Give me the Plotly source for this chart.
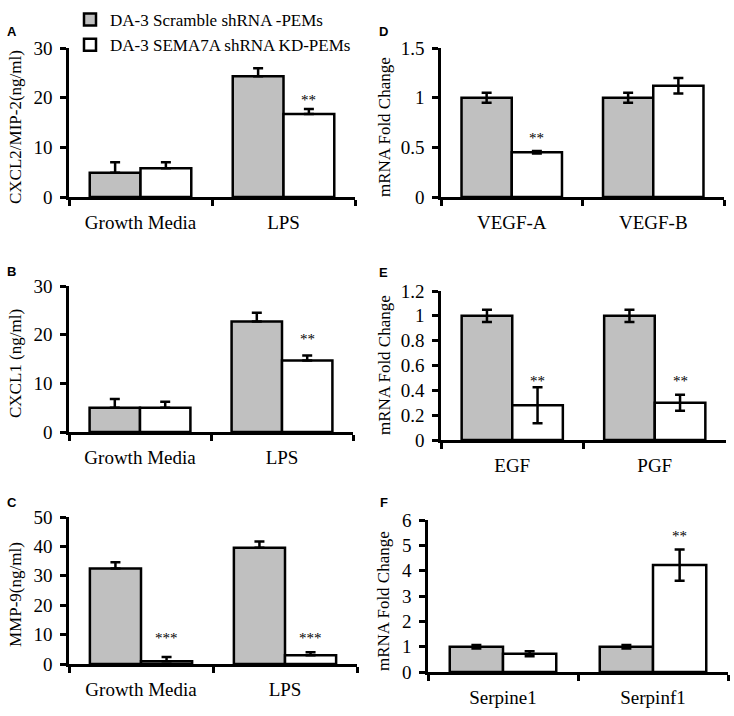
import plotly.graph_objects as go

W, H = 734, 716

# ---------------- data ----------------
cats_left = ["Growth Media", "LPS"]
cats_D = ["VEGF-A", "VEGF-B"]
cats_E = ["EGF", "PGF"]
cats_F = ["Serpine1", "Serpinf1"]

series_names = ["DA-3 Scramble shRNA -PEMs", "DA-3 SEMA7A shRNA KD-PEMs"]

A_scr = [4.9, 24.3]
A_scr_err = [2.1, 1.6]
A_kd = [5.8, 16.7]
A_kd_err = [1.2, 1.0]
A_sig = ["", "**"]
A_sig_y = [None, 19.7]

B_scr = [5.0, 22.7]
B_scr_err = [1.8, 1.8]
B_kd = [5.0, 14.7]
B_kd_err = [1.2, 1.0]
B_sig = ["", "**"]
B_sig_y = [None, 19.3]

C_scr = [32.5, 39.5]
C_scr_err = [2.1, 2.2]
C_kd = [0.9, 3.0]
C_kd_err = [1.5, 1.0]
C_sig = ["***", "***"]
C_sig_y = [9.2, 9.2]

D_scr = [1.0, 1.0]
D_scr_err = [0.05, 0.05]
D_kd = [0.45, 1.12]
D_kd_err = [0.012, 0.078]
D_sig = ["**", ""]
D_sig_y = [0.60, None]

E_scr = [1.0, 1.0]
E_scr_err = [0.05, 0.05]
E_kd = [0.28, 0.30]
E_kd_err = [0.145, 0.065]
E_sig = ["**", "**"]
E_sig_y = [0.48, 0.48]

F_scr = [1.0, 1.0]
F_scr_err = [0.07, 0.07]
F_kd = [0.72, 4.22]
F_kd_err = [0.10, 0.62]
F_sig = ["", "**"]
F_sig_y = [None, 5.4]

y_titles = ["CXCL2/MIP-2(ng/ml)", "CXCL1 (ng/ml)", "MMP-9(ng/ml)",
            "mRNA Fold Change", "mRNA Fold Change", "mRNA Fold Change"]
panel_letters = ["A", "B", "C", "D", "E", "F"]
y_max = [30, 30, 50, 1.5, 1.2, 6]
y_dtick = [10, 10, 10, 0.5, 0.2, 1]

# ---------------- layout geometry (pixels) ----------------
# (x_left, x_right, y_top, y_bottom)
boxes = [
    (69, 355, 48, 197),
    (69, 353, 286, 432),
    (69, 357, 517, 664),
    (441, 724, 48, 197),
    (441, 726, 291, 440),
    (428, 728, 520, 672),
]
title_pos = [(15, 127), (15, 364), (15, 595), (384, 127), (384, 365), (383, 601)]
letter_pos = [(12, 31), (12, 271), (12, 502), (384, 31), (384, 272), (384, 502)]

GRAY = "#C0C0C0"
SERIF = "Liberation Serif, Times New Roman, serif"
BARGAP = 0.29

panels = [
    (cats_left, A_scr, A_scr_err, A_kd, A_kd_err, A_sig, A_sig_y, True),
    (cats_left, B_scr, B_scr_err, B_kd, B_kd_err, B_sig, B_sig_y, True),
    (cats_left, C_scr, C_scr_err, C_kd, C_kd_err, C_sig, C_sig_y, True),
    (cats_D, D_scr, D_scr_err, D_kd, D_kd_err, D_sig, D_sig_y, False),
    (cats_E, E_scr, E_scr_err, E_kd, E_kd_err, E_sig, E_sig_y, False),
    (cats_F, F_scr, F_scr_err, F_kd, F_kd_err, F_sig, F_sig_y, False),
]

fig = go.Figure()
annotations = []

for i, (cats, scr, scr_err, kd, kd_err, sig, sig_y, one_sided) in enumerate(panels):
    n = i + 1
    xa = "x" if n == 1 else f"x{n}"
    ya = "y" if n == 1 else f"y{n}"
    for j, (vals, errs, color) in enumerate([(scr, scr_err, GRAY), (kd, kd_err, "white")]):
        if one_sided:
            err = dict(type="data", array=errs, arrayminus=[0] * len(errs), symmetric=False,
                       color="black", thickness=2.5, width=5)
        else:
            err = dict(type="data", array=errs, symmetric=True,
                       color="black", thickness=2.5, width=5)
        fig.add_trace(go.Bar(
            x=cats, y=vals, name=series_names[j], xaxis=xa, yaxis=ya,
            marker=dict(color=color, line=dict(color="black", width=2.5)),
            error_y=err, showlegend=(i == 0), legendgroup=series_names[j],
        ))
    x0, x1, yt, yb = boxes[i]
    fig.layout[f"xaxis{'' if n == 1 else n}"] = dict(
        domain=[x0 / W, x1 / W], anchor=ya, type="category",
        showline=True, linecolor="black", linewidth=2.5,
        ticks="outside", tickson="boundaries", ticklen=6, tickwidth=2.5, tickcolor="black",
        showgrid=False, ticklabelstandoff=6,
        tickfont=dict(family=SERIF, size=19, color="black"),
        range=[-0.5, len(cats) - 0.5], fixedrange=True, automargin=False,
    )
    fig.layout[f"yaxis{'' if n == 1 else n}"] = dict(
        domain=[1 - yb / H, 1 - yt / H], anchor=xa,
        range=[0, y_max[i]], dtick=y_dtick[i], tick0=0,
        showline=True, linecolor="black", linewidth=2.5,
        ticks="outside", ticklen=6, tickwidth=2.5, tickcolor="black",
        showgrid=False, zeroline=False, ticklabelstandoff=4,
        tickfont=dict(family=SERIF, size=19, color="black"), automargin=False,
        fixedrange=True,
    )
    offset = (1 - BARGAP) / 4
    for k, s in enumerate(sig):
        if s:
            annotations.append(dict(
                x=k + offset, y=sig_y[k], xref=xa, yref=ya, text=s, showarrow=False,
                font=dict(family=SERIF, size=15, color="black"),
                xanchor="center", yanchor="middle", yshift=-1,
            ))
    tx, ty = title_pos[i]
    annotations.append(dict(
        x=tx / W, y=1 - ty / H, xref="paper", yref="paper", text=y_titles[i],
        textangle=-90, showarrow=False, xanchor="center", yanchor="middle",
        font=dict(family=SERIF, size=17, color="black"),
    ))
    lx, ly = letter_pos[i]
    annotations.append(dict(
        x=lx / W, y=1 - ly / H, xref="paper", yref="paper", text=f"<b>{panel_letters[i]}</b>",
        showarrow=False, xanchor="center", yanchor="middle",
        font=dict(family="Liberation Sans, Arial, sans-serif", size=13, color="black"),
    ))

fig.update_layout(
    width=W, height=H,
    margin=dict(l=0, r=0, t=0, b=0, autoexpand=False),
    paper_bgcolor="white", plot_bgcolor="white",
    barmode="group", bargap=BARGAP, bargroupgap=0,
    annotations=annotations,
    showlegend=True,
    legend=dict(
        x=70 / W, y=1 - 2 / H, xanchor="left", yanchor="top",
        bgcolor="rgba(0,0,0,0)", borderwidth=0, itemwidth=30,
        font=dict(family=SERIF, size=17, color="black"),
        tracegroupgap=0,
    ),
)

fig.write_html("out.html", config={"displayModeBar": False},
               post_script="document.body.style.margin='0';")
